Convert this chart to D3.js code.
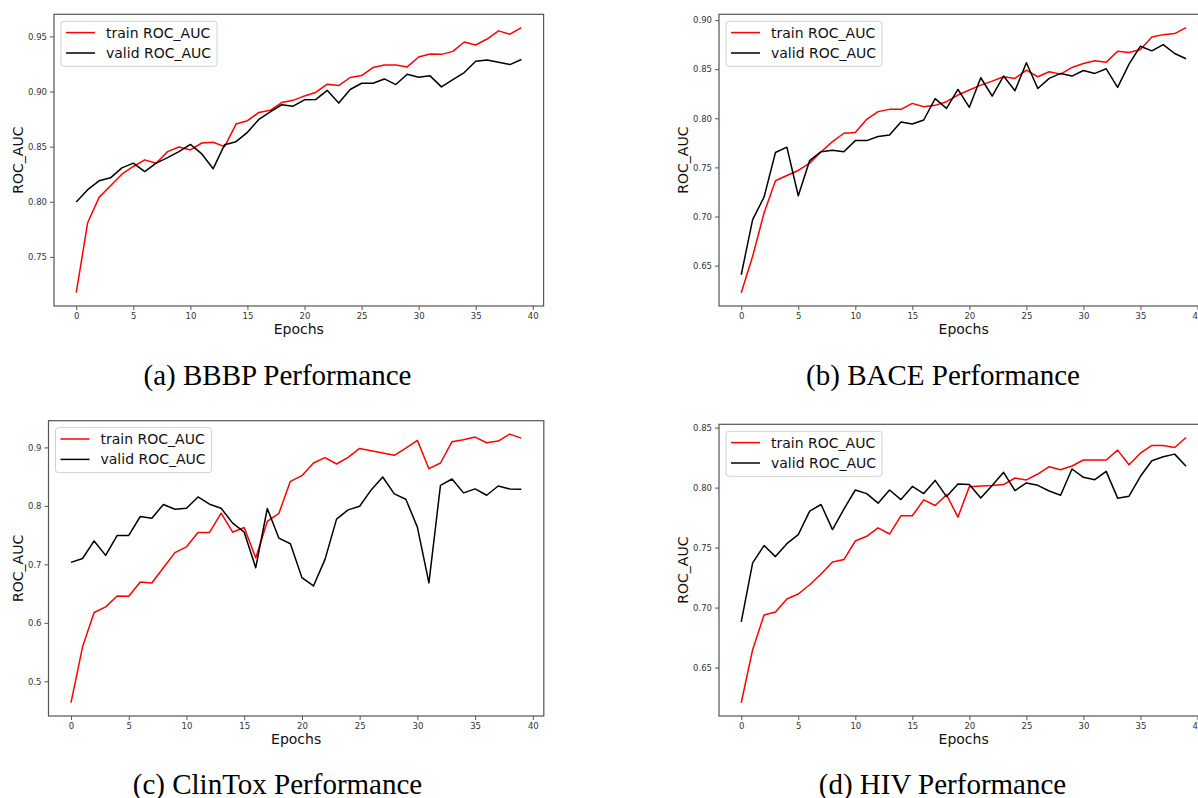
<!DOCTYPE html>
<html>
<head>
  <title>ROC_AUC curves</title>
  <script src="https://d3js.org/d3.v7.min.js"></script>
  <style>
    body { margin: 0; background: #fff; }
    svg { display: block; }
  </style>
</head>
<body>
  <div id="chart"></div>

  <script>
    // epochs + tick labels
    const epochs = d3.range(0, 40);
    const xTicks = [0, 5, 10, 15, 20, 25, 30, 35, 40];
    const seriesNames = ["train ROC_AUC", "valid ROC_AUC"];
    const captions = ["(a) BBBP Performance", "(b) BACE Performance", "(c) ClinTox Performance", "(d) HIV Performance"];

    const bbbpTicks = [0.75, 0.80, 0.85, 0.90, 0.95];
    const baceTicks = [0.65, 0.70, 0.75, 0.80, 0.85, 0.90];
    const clintoxTicks = [0.5, 0.6, 0.7, 0.8, 0.9];
    const hivTicks = [0.65, 0.70, 0.75, 0.80, 0.85];

    // values
    const bbbpTrain = [0.7175, 0.781, 0.804, 0.8145, 0.825, 0.832, 0.838, 0.835, 0.8455, 0.8497,
      0.847, 0.8533, 0.854, 0.850, 0.8705, 0.8735, 0.881, 0.883, 0.890, 0.892,
      0.896, 0.8994, 0.9066, 0.9054, 0.9127, 0.9145, 0.9217, 0.924, 0.924, 0.9223,
      0.9313, 0.934, 0.9337, 0.9364, 0.9449, 0.9422, 0.9476, 0.955, 0.952, 0.958];
    const bbbpValid = [0.7997, 0.811, 0.819, 0.8217, 0.8307, 0.835, 0.8274, 0.835, 0.840, 0.8455,
      0.852, 0.8434, 0.830, 0.8518, 0.8545, 0.863, 0.8747, 0.8816, 0.888, 0.8867,
      0.8925, 0.8928, 0.901, 0.8895, 0.9018, 0.9075, 0.9075, 0.9114, 0.9063, 0.9157,
      0.913, 0.9142, 0.9042, 0.9108, 0.9172, 0.9274, 0.9286, 0.9265, 0.9244, 0.929];

    const baceTrain = [0.6224, 0.6596, 0.7036, 0.7364, 0.7418, 0.7469, 0.7543, 0.766, 0.7763, 0.7848,
      0.7855, 0.799, 0.8068, 0.8091, 0.8091, 0.8152, 0.8118, 0.8132, 0.8169, 0.8237,
      0.8288, 0.8338, 0.8379, 0.8423, 0.8406, 0.849, 0.8423, 0.8474, 0.845, 0.8518,
      0.8558, 0.8585, 0.8572, 0.8683, 0.867, 0.870, 0.8829, 0.8852, 0.8863, 0.8924];
    const baceValid = [0.6407, 0.6968, 0.7198, 0.7652, 0.7706, 0.7212, 0.757, 0.766, 0.7675, 0.766,
      0.7773, 0.7773, 0.7814, 0.7831, 0.7963, 0.7942, 0.7983, 0.820, 0.8101, 0.8294,
      0.8112, 0.8413, 0.8227, 0.843, 0.8281, 0.8565, 0.8304, 0.8406, 0.8457, 0.843,
      0.8487, 0.8457, 0.8504, 0.8315, 0.8551, 0.8734, 0.8687, 0.8751, 0.866, 0.8606];

    const clintoxTrain = [0.4636, 0.559, 0.6176, 0.6273, 0.646, 0.6455, 0.6699, 0.668, 0.6943, 0.72,
      0.730, 0.7545, 0.7545, 0.7875, 0.755, 0.763, 0.7108, 0.7733, 0.787, 0.842,
      0.8517, 0.8733, 0.8824, 0.8716, 0.883, 0.8983, 0.8943, 0.8903, 0.8864, 0.8989,
      0.912, 0.8636, 0.8733, 0.9097, 0.9131, 0.9176, 0.908, 0.9108, 0.9227, 0.9159];
    const clintoxValid = [0.7034, 0.710, 0.740, 0.7153, 0.7494, 0.7494, 0.7818, 0.779, 0.8023, 0.7943,
      0.796, 0.8153, 0.8028, 0.796, 0.7705, 0.755, 0.6943, 0.7955, 0.7449, 0.7352,
      0.6773, 0.663, 0.7085, 0.7773, 0.7932, 0.7994, 0.8273, 0.8494, 0.8205, 0.8114,
      0.7636, 0.6682, 0.8352, 0.846, 0.8222, 0.829, 0.8182, 0.834, 0.829, 0.8284];

    const hivTrain = [0.6207, 0.6649, 0.6939, 0.6964, 0.7072, 0.7113, 0.719, 0.728, 0.738, 0.740,
      0.7555, 0.7594, 0.7665, 0.7613, 0.7765, 0.7765, 0.7898, 0.7851, 0.7939, 0.7754,
      0.8008, 0.8014, 0.8017, 0.8025, 0.808, 0.8064, 0.8113, 0.8174, 0.8149, 0.818,
      0.823, 0.823, 0.823, 0.8312, 0.8191, 0.8287, 0.8351, 0.8351, 0.8334, 0.8417];
    const hivValid = [0.6881, 0.7373, 0.7517, 0.7425, 0.7533, 0.7608, 0.7804, 0.7859, 0.765, 0.782,
      0.798, 0.795, 0.787, 0.798, 0.790, 0.801, 0.795, 0.806, 0.7925, 0.803,
      0.8025, 0.7914, 0.8017, 0.8127, 0.7975, 0.8039, 0.8019, 0.7972, 0.7936, 0.8155,
      0.8086, 0.8066, 0.8135, 0.7912, 0.7928, 0.8094, 0.8224, 0.8257, 0.8279, 0.8177];

    const panels = [
      { train: bbbpTrain, valid: bbbpValid, ticks: bbbpTicks, fmt: ".2f" },
      { train: baceTrain, valid: baceValid, ticks: baceTicks, fmt: ".2f" },
      { train: clintoxTrain, valid: clintoxValid, ticks: clintoxTicks, fmt: ".1f" },
      { train: hivTrain, valid: hivValid, ticks: hivTicks, fmt: ".2f" }
    ];

    // where each axes box sits on the page
    const boxes = [
      { left: 54, right: 543.6, top: 14.3, bottom: 306, ylabX: 17.5, capX: 277.5, capY: 385 },
      { left: 719, right: 1208.3, top: 14.3, bottom: 306, ylabX: 683, capX: 943, capY: 385 },
      { left: 48.5, right: 543.8, top: 420.7, bottom: 716, ylabX: 17.5, capX: 277.5, capY: 794 },
      { left: 719, right: 1208.3, top: 424.3, bottom: 716, ylabX: 683, capX: 942.5, capY: 794 }
    ];

    const colors = ["#ff0000", "#000000"];
    const sans = "DejaVu Sans, sans-serif";

    const svg = d3.select("#chart").append("svg")
      .attr("width", 1198)
      .attr("height", 798);

    panels.forEach(function(p, i) {
      const b = boxes[i];
      const x = d3.scaleLinear().domain([-1.95, 40.95]).range([b.left, b.right]);

      // matplotlib style 5% margin
      const all = p.train.concat(p.valid);
      const ext = d3.extent(all);
      const pad = (ext[1] - ext[0]) * 0.05;
      const y = d3.scaleLinear().domain([ext[0] - pad, ext[1] + pad]).range([b.bottom, b.top]);

      const g = svg.append("g");

      g.append("clipPath").attr("id", "clip" + i)
        .append("rect")
        .attr("x", b.left).attr("y", b.top)
        .attr("width", b.right - b.left).attr("height", b.bottom - b.top);

      // axes
      const xAxis = g.append("g")
        .attr("transform", `translate(0,${b.bottom})`)
        .call(d3.axisBottom(x).tickValues(xTicks).tickSize(4).tickPadding(3).tickFormat(d3.format("d")));
      const yAxis = g.append("g")
        .attr("transform", `translate(${b.left},0)`)
        .call(d3.axisLeft(y).tickValues(p.ticks).tickSize(4).tickPadding(3).tickFormat(d3.format(p.fmt)));

      [xAxis, yAxis].forEach(function(ax) {
        ax.select(".domain").remove();
        ax.selectAll("text").attr("font-family", sans).attr("font-size", 8.5).attr("fill", "#333");
        ax.selectAll("line").attr("stroke", "#555");
      });

      // lines
      const lineGen = d3.line().x((d, j) => x(epochs[j])).y(d => y(d));
      [p.train, p.valid].forEach(function(s, k) {
        g.append("path")
          .datum(s)
          .attr("clip-path", `url(#clip${i})`)
          .attr("fill", "none")
          .attr("stroke", colors[k])
          .attr("stroke-width", 1.5)
          .attr("stroke-linejoin", "round")
          .attr("d", lineGen);
      });

      // frame
      g.append("rect")
        .attr("x", b.left).attr("y", b.top)
        .attr("width", b.right - b.left).attr("height", b.bottom - b.top)
        .attr("fill", "none")
        .attr("stroke", "#555")
        .attr("stroke-width", 1.2);

      // legend
      const lx = b.left + 7, ly = b.top + 7;
      const leg = g.append("g").attr("transform", `translate(${lx},${ly})`);
      leg.append("rect")
        .attr("width", 156).attr("height", 45).attr("rx", 3)
        .attr("fill", "#fff").attr("fill-opacity", 0.8)
        .attr("stroke", "#d0d0d0");
      seriesNames.forEach(function(name, k) {
        const ry = 11.3 + k * 20.4;
        leg.append("line")
          .attr("x1", 5).attr("x2", 34).attr("y1", ry).attr("y2", ry)
          .attr("stroke", colors[k]).attr("stroke-width", 1.5);
        leg.append("text")
          .attr("x", 45).attr("y", ry)
          .attr("dy", "0.36em")
          .attr("font-family", sans).attr("font-size", 14)
          .attr("fill", "#111")
          .text(name);
      });

      // axis titles
      g.append("text")
        .attr("x", (b.left + b.right) / 2)
        .attr("y", b.bottom + 28)
        .attr("text-anchor", "middle")
        .attr("font-family", sans).attr("font-size", 14)
        .attr("fill", "#111")
        .text("Epochs");
      g.append("text")
        .attr("transform", `translate(${b.ylabX},${(b.top + b.bottom) / 2}) rotate(-90)`)
        .attr("text-anchor", "middle")
        .attr("dy", "0.36em")
        .attr("font-family", sans).attr("font-size", 14)
        .attr("fill", "#111")
        .text("ROC_AUC");

      // caption
      svg.append("text")
        .attr("x", b.capX)
        .attr("y", b.capY)
        .attr("text-anchor", "middle")
        .attr("font-family", "Liberation Serif, Times New Roman, serif")
        .attr("font-size", 29)
        .attr("fill", "#000")
        .text(captions[i]);
    });
  </script>
</body>
</html>
